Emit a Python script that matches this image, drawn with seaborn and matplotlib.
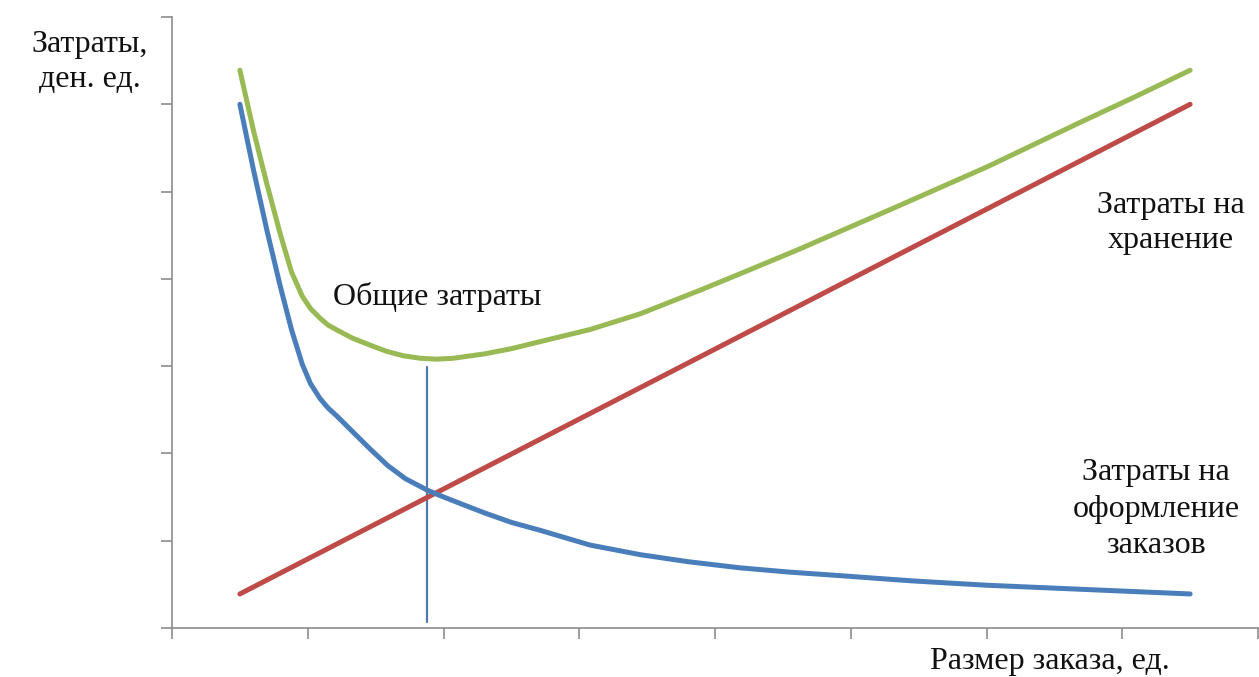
import matplotlib
matplotlib.use("Agg")
import matplotlib.pyplot as plt
import seaborn as sns
import pandas as pd

# Order size (axis units) and cost values
order_x = [0.50, 0.60, 0.70, 0.80, 0.88, 0.96, 1.02, 1.09, 1.15, 1.22, 1.33, 1.46,
           1.59, 1.72, 1.88, 1.97, 2.15, 2.30, 2.50, 2.71, 3.08, 3.45, 3.80, 4.18,
           4.55, 4.92, 5.45, 6.00, 6.75, 7.50]
ordering_cost = [6.00, 5.25, 4.55, 3.90, 3.42, 3.02, 2.80, 2.63, 2.52, 2.42, 2.25, 2.05,
                 1.86, 1.71, 1.58, 1.52, 1.41, 1.32, 1.21, 1.12, 0.95, 0.84, 0.76, 0.69,
                 0.64, 0.60, 0.54, 0.49, 0.44, 0.39]

total_x = [0.50, 0.60, 0.70, 0.80, 0.88, 0.96, 1.02, 1.09, 1.15, 1.22, 1.33, 1.46,
           1.58, 1.70, 1.83, 1.95, 2.07, 2.30, 2.50, 2.71, 3.08, 3.45, 3.89, 4.25,
           4.62, 5.30, 5.65, 6.00, 6.70, 7.10, 7.50]
total_cost = [6.39, 5.70, 5.08, 4.50, 4.08, 3.80, 3.66, 3.55, 3.47, 3.41, 3.32, 3.24,
              3.17, 3.12, 3.09, 3.08, 3.09, 3.14, 3.20, 3.28, 3.42, 3.60, 3.87, 4.10,
              4.34, 4.80, 5.04, 5.28, 5.80, 6.09, 6.39]

holding_x = [0.50, 7.50]
holding_cost = [0.39, 6.00]

optimum_x = [1.88, 1.88]
optimum_y = [0.07, 2.99]

x_ticks = [0, 1, 2, 3, 4, 5, 6, 7, 8]
y_ticks = [0, 1, 2, 3, 4, 5, 6, 7]

W, H = 1259, 677
fig = plt.figure(figsize=(W / 100, H / 100), dpi=100)
sns.set_style("white")
plt.rcParams['font.family'] = ['Liberation Serif', 'DejaVu Serif']

ax = fig.add_axes([172 / W, 1 - 628 / H, (1258 - 172) / W, (628 - 17) / H])

blue = "#4A7EBB"
red = "#BE4B48"
green = "#98B954"

df_order = pd.DataFrame({"x": order_x, "y": ordering_cost})
df_total = pd.DataFrame({"x": total_x, "y": total_cost})
df_hold = pd.DataFrame({"x": holding_x, "y": holding_cost})
df_opt = pd.DataFrame({"x": optimum_x, "y": optimum_y})

sns.lineplot(data=df_opt, x="x", y="y", ax=ax, color="#4F7BB0", lw=1.6,
             sort=False, estimator=None)
sns.lineplot(data=df_hold, x="x", y="y", ax=ax, color=red, lw=3.6,
             sort=False, estimator=None, solid_capstyle="round")
sns.lineplot(data=df_order, x="x", y="y", ax=ax, color=blue, lw=3.6,
             sort=False, estimator=None, solid_capstyle="round", solid_joinstyle="round")
sns.lineplot(data=df_total, x="x", y="y", ax=ax, color=green, lw=3.6,
             sort=False, estimator=None, solid_capstyle="round", solid_joinstyle="round")

ax.set_xlim(0, 8)
ax.set_ylim(0, 7)
ax.set_xticks(x_ticks)
ax.set_yticks(y_ticks)
ax.set_xticklabels([])
ax.set_yticklabels([])
ax.set_xlabel("")
ax.set_ylabel("")
ax.tick_params(axis="both", direction="out", length=8, width=1.2, color="#8C8C8C",
               bottom=True, left=True)
for s in ["top", "right"]:
    ax.spines[s].set_visible(False)
for s in ["left", "bottom"]:
    ax.spines[s].set_color("#8C8C8C")
    ax.spines[s].set_linewidth(1.2)
ax.patch.set_alpha(0)

fs = 23
def ftext(px, py, s, ls=1.2):
    fig.text(px / W, 1 - py / H, s, fontsize=fs, color="#111111",
             ha="center", va="center", linespacing=ls)

ftext(90, 62, "Затраты,\nден. ед.", ls=1.25)
ftext(437, 297, "Общие затраты")
ftext(1171, 223, "Затраты на\nхранение", ls=1.25)
ftext(1156, 509, "Затраты на\nоформление\nзаказов", ls=1.32)
ftext(1050, 661, "Размер заказа, ед.")

fig.savefig("out.png", dpi=100)
